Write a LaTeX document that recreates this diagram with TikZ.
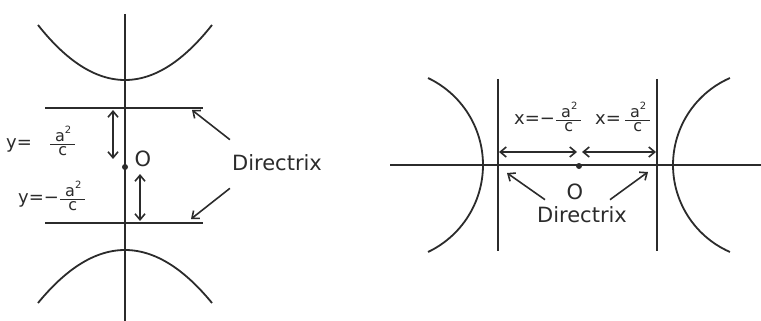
\documentclass[tikz,border=0pt]{standalone}
\usepackage{amsmath}
\usepackage{fontspec}
\setmainfont{DejaVu Sans}
\usetikzlibrary{arrows.meta}
\definecolor{inkgray}{HTML}{2B2B2B}
\newcommand\afrac{$\genfrac{}{}{1.3pt}{}{\hspace{5pt}\mbox{\fontsize{16}{16}\selectfont a\raisebox{8pt}{\fontsize{10}{10}\selectfont 2}}\hspace{4pt}}{\mbox{\fontsize{16}{16}\selectfont c}}$}

\begin{document}
\begin{tikzpicture}[
    x=1pt, y=-1pt,
    >={Straight Barb[length=6pt,width=10pt]},
    axisline/.style={draw=inkgray, line width=2pt},
    branch/.style={draw=inkgray, line width=1.8pt},
    dirline/.style={draw=inkgray, line width=2.2pt},
    span/.style={<->, draw=inkgray, line width=1.6pt},
    pointer/.style={->, draw=inkgray, line width=1.6pt},
    lab/.style={text=inkgray, font=\fontsize{18}{19}\selectfont, inner sep=0pt},
    biglab/.style={text=inkgray, font=\fontsize{21}{22}\selectfont, inner sep=0pt},
    origin/.style={circle, fill=inkgray, inner sep=0pt, minimum size=6pt},
  ]
  \useasboundingbox (0,0) rectangle (761,321);

  % ================================================================
  %  LEFT  --  transverse axis vertical
  % ================================================================
  \coordinate (vTop) at (125,14);
  \coordinate (vBot) at (125,321);
  \draw[axisline] (vTop) -- (vBot);

  % -- branches --
  \draw[branch] plot[domain=-87:87, samples=60, smooth]
    ({125+\x},{80-55*(\x/87)^2});
  \draw[branch] plot[domain=-87:87, samples=60, smooth]
    ({125+\x},{250+53*(\x/87)^2});

  % -- directrices --
  \coordinate (dU1) at (45,108);  \coordinate (dU2) at (203,108);
  \coordinate (dD1) at (45,223);  \coordinate (dD2) at (203,223);
  \draw[dirline] (dU1) -- (dU2);
  \draw[dirline] (dD1) -- (dD2);

  \node[origin] (oL) at (125,167) {};
  \node[biglab] (oLlab) at (143,159) {O};

  % -- distances --
  \coordinate (sU1) at (113,110);  \coordinate (sU2) at (113,159);
  \coordinate (sD1) at (140,174);  \coordinate (sD2) at (140,221);
  \draw[span] (sU1) -- (sU2);
  \draw[span] (sD1) -- (sD2);

  \node[lab, anchor=west] (yU) at (6,141) {y=\hspace{17pt}\afrac};
  \node[lab, anchor=west] (yD) at (18,196) {y=−\afrac};

  \node[biglab] (dirL) at (277,163) {Directrix};
  \coordinate (tU) at (192,110);
  \coordinate (tD) at (191,219);
  \draw[pointer] ([xshift=-2pt,yshift=15pt]dirL.north west) -- (tU);
  \draw[pointer] ([xshift=-2pt,yshift=-17pt]dirL.south west) -- (tD);

  % ================================================================
  %  RIGHT  --  transverse axis horizontal
  % ================================================================
  \coordinate (hL) at (390,165);
  \coordinate (hR) at (761,165);
  \draw[axisline] (hL) -- (hR);

  % -- branches --
  \draw[branch] plot[domain=-64.6:64.6, samples=60, smooth]
    ({386.7+96.3*cos(\x)},{165+96.3*sin(\x)});
  \draw[branch] plot[domain=-66.4:66.4, samples=60, smooth]
    ({767.9-94.9*cos(\x)},{165+94.9*sin(\x)});

  % -- directrices --
  \coordinate (dL1) at (498,79);  \coordinate (dL2) at (498,251);
  \coordinate (dR1) at (657,79);  \coordinate (dR2) at (657,251);
  \draw[dirline] (dL1) -- (dL2);
  \draw[dirline] (dR1) -- (dR2);

  \node[origin] (oR) at (579,166) {};
  \node[biglab] (oRlab) at (575,192) {O};

  % -- distances --
  \coordinate (sL1) at (499,152);  \coordinate (sL2) at (577,152);
  \coordinate (sR1) at (582,152);  \coordinate (sR2) at (656,152);
  \draw[span] (sL1) -- (sL2);
  \draw[span] (sR1) -- (sR2);

  \node[lab, anchor=west] (xL) at (514,117) {x=−\afrac};
  \node[lab, anchor=west] (xR) at (595,117) {x=\,\afrac};

  \node[biglab] (dirR) at (582,215) {Directrix};
  \coordinate (tL) at (507,173);
  \coordinate (tR) at (648,172);
  \draw[pointer] ([xshift=-37pt,yshift=7pt]dirR.north) -- (tL);
  \draw[pointer] ([xshift=28pt,yshift=7pt]dirR.north) -- (tR);

\end{tikzpicture}
\end{document}
